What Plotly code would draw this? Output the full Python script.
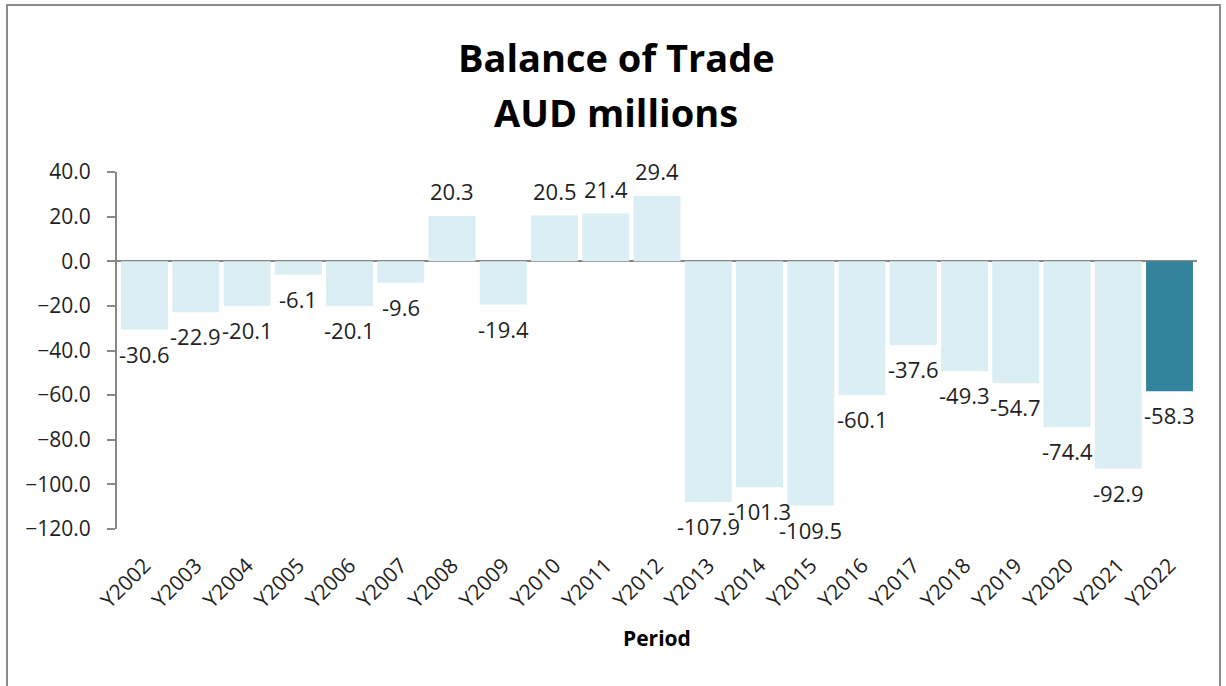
import plotly.graph_objects as go

# Annual balance of trade, AUD millions
periods = ["Y2002", "Y2003", "Y2004", "Y2005", "Y2006", "Y2007", "Y2008",
           "Y2009", "Y2010", "Y2011", "Y2012", "Y2013", "Y2014", "Y2015",
           "Y2016", "Y2017", "Y2018", "Y2019", "Y2020", "Y2021", "Y2022"]
balance = [-30.6, -22.9, -20.1, -6.1, -20.1, -9.6, 20.3,
           -19.4, 20.5, 21.4, 29.4, -107.9, -101.3, -109.5,
           -60.1, -37.6, -49.3, -54.7, -74.4, -92.9, -58.3]

LIGHT = "#DAEEF3"
HIGHLIGHT = "#31849B"
colors = [LIGHT] * (len(periods) - 1) + [HIGHLIGHT]

FONT = "'Open Sans', sans-serif"
TEXT = "#1f1f1f"
W, H = 1226, 686
L, R, T, B = 117, 29, 172, 157
pw, ph = W - L - R, H - T - B


def px_x(x):
    return (x - L) / pw


def px_y(y):
    return (H - B - y) / ph


fig = go.Figure(go.Bar(
    x=periods,
    y=balance,
    marker=dict(color=colors, line=dict(width=0)),
    width=0.915,
    hoverinfo="x+y",
))

# value labels just outside the end of each bar
value_labels = [
    dict(
        x=p, y=v, xref="x", yref="y",
        text=f"{v:.1f}",
        showarrow=False,
        xanchor="center",
        yanchor="bottom" if v >= 0 else "top",
        yshift=8 if v >= 0 else -7,
        font=dict(family=FONT, size=22, color=TEXT),
    )
    for p, v in zip(periods, balance)
]

title_lines = [
    dict(text="<b>Balance of Trade</b>", xref="paper", yref="paper",
         x=px_x(616), y=px_y(57), xanchor="center", yanchor="middle",
         showarrow=False, font=dict(family=FONT, size=38, color="black")),
    dict(text="<b>AUD millions</b>", xref="paper", yref="paper",
         x=px_x(616), y=px_y(112), xanchor="center", yanchor="middle",
         showarrow=False, font=dict(family=FONT, size=38, color="black")),
    dict(text="<b>Period</b>", xref="paper", yref="paper",
         x=px_x(657), y=px_y(638), xanchor="center", yanchor="middle",
         showarrow=False, font=dict(family=FONT, size=21, color="black")),
]

fig.update_layout(
    width=W, height=H,
    margin=dict(l=L, r=R, t=T, b=B),
    paper_bgcolor="white",
    plot_bgcolor="white",
    showlegend=False,
    font=dict(family=FONT, color=TEXT),
    xaxis=dict(
        type="category",
        tickangle=-45,
        tickfont=dict(family=FONT, size=21, color=TEXT),
        showline=False,
        showgrid=False,
        ticks="",
        ticklabelstandoff=19,
    ),
    yaxis=dict(
        range=[-120, 40],
        dtick=20,
        tick0=0,
        tickformat=".1f",
        showgrid=False,
        showline=True,
        linecolor="#888888",
        linewidth=2,
        ticks="outside",
        ticklen=8,
        tickwidth=2,
        tickcolor="#888888",
        tickfont=dict(family=FONT, size=21, color=TEXT),
        ticklabelstandoff=12,
        zeroline=True,
        zerolinecolor="#888888",
        zerolinewidth=2,
        layer="above traces",
    ),
    annotations=value_labels + title_lines,
    shapes=[
        dict(
            type="rect", xref="paper", yref="paper",
            x0=px_x(7), x1=px_x(1220), y0=px_y(720), y1=px_y(5),
            line=dict(color="#8C8C8C", width=2),
            fillcolor="rgba(0,0,0,0)",
            layer="below",
        )
    ],
)

fig.write_html("out.html")
